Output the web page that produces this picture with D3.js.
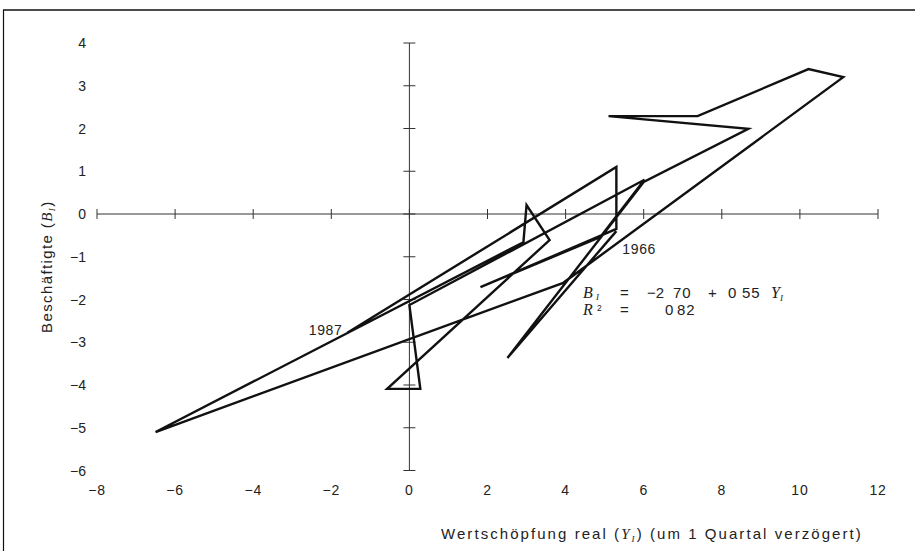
<!DOCTYPE html>
<html><head><meta charset="utf-8">
<script src="https://cdn.jsdelivr.net/npm/d3@7"></script>
<style>body{margin:0;background:#fff}svg{display:block}</style>
</head><body>
<svg id="c" width="915" height="551"></svg>
<script>
// Data: (Y_I, B_I) path, 1966 -> 1987
const years = [1966,1967,1968,1969,1970,1971,1972,1973,1974,1975,1976,1977,1978,1979,1980,1981,1982,1983,1984,1985,1986,1987];
const wertschoepfung = [5.30, 2.51, 6.00, 8.68, 5.10, 7.38, 10.22, 11.11, 3.94, -6.50, 2.92, 3.00, 3.59, -0.57, 0.28, 0.00, 6.02, 4.89, 1.82, 5.30, 5.30, -1.59];
const beschaeftigte  = [-0.40, -3.37, 0.75, 1.99, 2.29, 2.29, 3.39, 3.20, -1.61, -5.10, -0.66, 0.21, -0.61, -4.09, -4.09, -2.13, 0.80, -0.54, -1.71, -0.35, 1.10, -2.78];
const xTicks = [-8, -6, -4, -2, 0, 2, 4, 6, 8, 10, 12];
const yTicks = [-6, -5, -4, -3, -2, -1, 0, 1, 2, 3, 4];

const svg = d3.select("#c");
const x = d3.scaleLinear().domain([-8, 12]).range([97, 878]);
const y = d3.scaleLinear().domain([-6, 4]).range([470.5, 43]);
const ink = "#111";
const txt = "#222";

// frame (top and left edges)
svg.append("line").attr("x1", 3).attr("x2", 915).attr("y1", 10).attr("y2", 10).attr("stroke", ink).attr("stroke-width", 1.5);
svg.append("line").attr("x1", 3.5).attr("x2", 3.5).attr("y1", 10).attr("y2", 551).attr("stroke", ink).attr("stroke-width", 1.2);

// axes through origin
const g = svg.append("g").attr("stroke", "#333").attr("stroke-width", 1);
g.append("line").attr("x1", x(-8)).attr("x2", x(12)).attr("y1", y(0)).attr("y2", y(0));
g.append("line").attr("x1", x(0)).attr("x2", x(0)).attr("y1", y(4)).attr("y2", y(-6));
g.selectAll(".xt").data(xTicks).join("line")
  .attr("x1", d => x(d)).attr("x2", d => x(d)).attr("y1", y(0) - 5).attr("y2", y(0) + 5);
g.selectAll(".yt").data(yTicks).join("line")
  .attr("x1", x(0) - 6).attr("x2", x(0) + 6).attr("y1", d => y(d)).attr("y2", d => y(d));

// tick labels
const tf = "'Liberation Sans', Arial, sans-serif";
const serif = "'Liberation Serif', serif";
const fmt = d => d < 0 ? "\u2212" + Math.abs(d) : String(d);
svg.selectAll(".xl").data(xTicks).join("text")
  .attr("x", d => x(d)).attr("y", 495).attr("text-anchor", "middle")
  .attr("font-family", tf).attr("font-size", 14).attr("letter-spacing", 0.8).attr("fill", txt).text(fmt);
svg.selectAll(".yl").data(yTicks).join("text")
  .attr("x", 86).attr("y", d => y(d) + 5).attr("text-anchor", "end")
  .attr("font-family", tf).attr("font-size", 14).attr("fill", txt).text(fmt);

function fit(sel, w) {
  const n = sel.text().length;
  const cur = sel.node().getComputedTextLength();
  sel.attr("letter-spacing", Math.max(0, (w - cur) / n));
}

// axis titles
const xt = svg.append("text").attr("x", 441).attr("y", 539).attr("text-anchor", "start")
  .attr("font-family", tf).attr("font-size", 15).attr("fill", txt);
xt.append("tspan").text("Wertschöpfung  real  (");
xt.append("tspan").attr("font-family", serif).attr("font-style", "italic").text("Y");
xt.append("tspan").attr("font-family", serif).attr("font-style", "italic").attr("font-size", 9).attr("dy", 3).text("I");
xt.append("tspan").attr("dy", -3).text(")  (um 1 Quartal verzögert)");
fit(xt, 428);

const yt = svg.append("text").attr("transform", "translate(52,333) rotate(-90)").attr("text-anchor", "start")
  .attr("font-family", tf).attr("font-size", 15).attr("fill", txt);
yt.append("tspan").text("Beschäftigte  (");
yt.append("tspan").attr("font-family", serif).attr("font-style", "italic").text("B");
yt.append("tspan").attr("font-family", serif).attr("font-style", "italic").attr("font-size", 9).attr("dy", 3).text("I");
yt.append("tspan").attr("dy", -3).text(")");
fit(yt, 134);

// data path
const pts = wertschoepfung.map((v, i) => [v, beschaeftigte[i]]);
svg.append("path").datum(pts)
  .attr("d", d3.line().x(d => x(d[0])).y(d => y(d[1])))
  .attr("fill", "none").attr("stroke", ink).attr("stroke-width", 2.4).attr("stroke-linejoin", "miter");

// year labels
const first = pts[0], last = pts[pts.length - 1];
svg.append("text").attr("x", x(first[0]) + 6).attr("y", y(first[1]) + 23)
  .attr("font-family", tf).attr("font-size", 14).attr("letter-spacing", 0.6).attr("fill", txt).text(String(years[0]));
svg.append("text").attr("x", x(last[0]) - 5).attr("y", y(last[1]) + 2)
  .attr("text-anchor", "end").attr("font-family", tf).attr("font-size", 14).attr("letter-spacing", 0.6).attr("fill", txt).text(String(years[years.length - 1]));

// regression text
function tok(xp, yp, t, opt = {}) {
  const s = svg.append("text").attr("x", xp).attr("y", yp)
    .attr("font-family", opt.serif ? serif : tf).attr("font-size", opt.size || 15).attr("fill", txt).text(t);
  if (opt.serif) s.attr("font-style", "italic");
  return s;
}
tok(583, 298, "B", {serif: true, size: 16});
tok(596, 300, "I", {serif: true, size: 9});
tok(620, 298, "=");
tok(647, 298, "\u22122");
tok(673, 298, "70", {}).attr("letter-spacing", 0.8);
tok(708, 298, "+");
tok(728, 298, "0");
tok(742, 298, "55").attr("letter-spacing", 0.8);
tok(771, 298, "Y", {serif: true, size: 16});
tok(780, 301, "I", {serif: true, size: 9});
tok(583, 315, "R", {serif: true, size: 16});
tok(597, 311, "2", {size: 8.5});
tok(620, 315, "=");
tok(665, 315, "0");
tok(677, 315, "82").attr("letter-spacing", 0.8);
</script>
</body></html>
